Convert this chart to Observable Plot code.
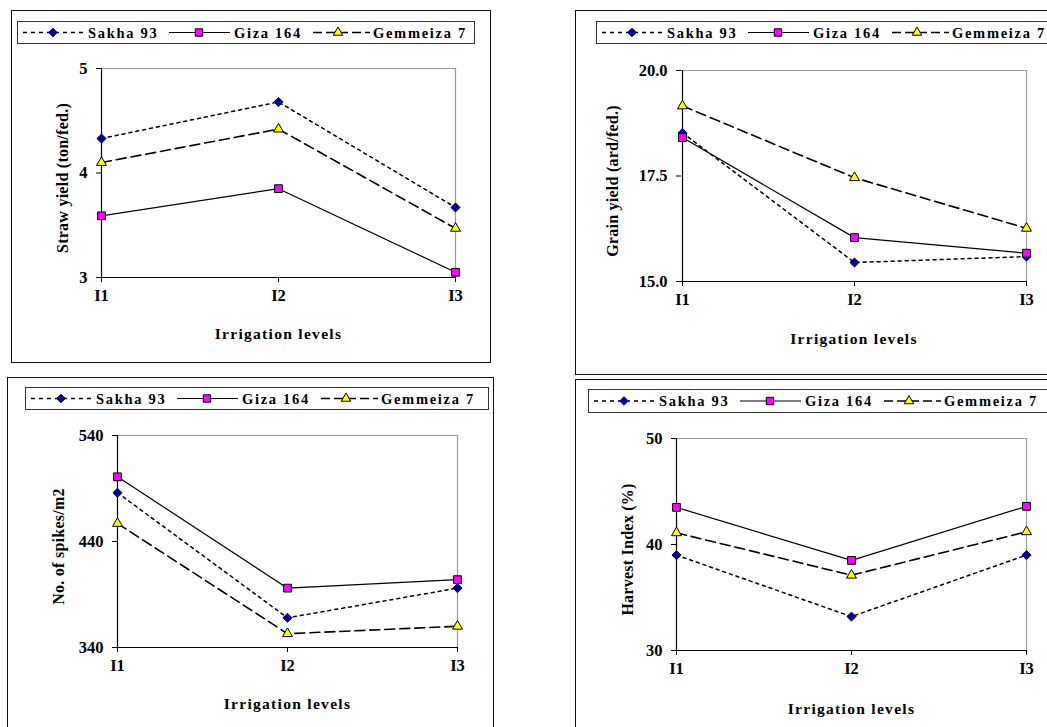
<!DOCTYPE html>
<html>
<head>
<meta charset="utf-8">
<script src="https://cdn.jsdelivr.net/npm/d3@7"></script>
<script src="https://cdn.jsdelivr.net/npm/@observablehq/plot@0.6"></script>
<style>
  html, body { margin: 0; padding: 0; background: #fff; }
  #page { position: relative; width: 1047px; height: 727px; overflow: hidden; background: #fff; }
  .box { position: absolute; border: 1.5px solid #111; box-sizing: border-box; }
</style>
</head>
<body>
<div id="page"></div>
<script>
// ---------- data ----------
const levels = ["I1", "I2", "I3"];
const seriesNames = ["Sakha 93", "Giza 164", "Gemmeiza 7"];

const strawSakha = [4.33, 4.68, 3.67];
const strawGiza = [3.59, 3.85, 3.05];
const strawGemmeiza = [4.10, 4.42, 3.47];
const strawTicks = [3, 4, 5];

const grainSakha = [18.52, 15.45, 15.59];
const grainGiza = [18.41, 16.04, 15.67];
const grainGemmeiza = [19.16, 17.46, 16.26];
const grainTicks = [15, 17.5, 20];

const spikesSakha = [486, 368, 396];
const spikesGiza = [501, 396, 404];
const spikesGemmeiza = [457, 353, 360];
const spikesTicks = [340, 440, 540];

const hiSakha = [39.0, 33.2, 39.0];
const hiGiza = [43.5, 38.5, 43.6];
const hiGemmeiza = [41.1, 37.1, 41.2];
const hiTicks = [30, 40, 50];

const xTitle = "Irrigation levels";

// ---------- styles ----------
const seriesStyle = [
  {dash: "3,4", width: 1.5, symbol: "diamond2", r: 4.1, fill: "#000080", stroke: "#000080", legendDash: "4,4"},
  {dash: null, width: 1.2, symbol: "square", r: 4.4, fill: "#FF00FF", stroke: "#000", legendDash: null},
  {dash: "10,5", width: 1.6, symbol: "triangle", r: 3.7, fill: "#FFFF00", stroke: "#000", legendDash: "9,4"}
];

const page = document.getElementById("page");
const FONT = "'Liberation Serif', 'Times New Roman', serif";

function addBox(x, y, w, h) {
  const d = document.createElement("div");
  d.className = "box";
  Object.assign(d.style, {left: x + "px", top: y + "px", width: w + "px", height: h + "px"});
  page.appendChild(d);
}

function addLegend(x, y, w, h) {
  const svg = d3.create("svg").attr("width", w).attr("height", h)
    .style("position", "absolute").style("left", x + "px").style("top", y + "px")
    .style("overflow", "visible");
  svg.append("rect").attr("x", 0.5).attr("y", 0.5).attr("width", w - 1).attr("height", h - 1)
    .attr("fill", "#fff").attr("stroke", "#333").attr("stroke-width", 1);
  const cy = h / 2;
  const items = [
    {x1: 6, x2: 66, m: 36, t: 71},
    {x1: 152, x2: 213, m: 182, t: 217},
    {x1: 296, x2: 353, m: 321, t: 356}
  ];
  items.forEach((it, i) => {
    const st = seriesStyle[i];
    const ln = svg.append("line").attr("x1", it.x1).attr("x2", it.x2).attr("y1", cy).attr("y2", cy)
      .attr("stroke", "#000").attr("stroke-width", st.width);
    if (st.legendDash) ln.attr("stroke-dasharray", st.legendDash);
    const symType = i === 0 ? d3.symbolDiamond2 : i === 1 ? d3.symbolSquare : d3.symbolTriangle;
    const size = Math.PI * st.r * st.r * 0.9;
    svg.append("path").attr("d", d3.symbol(symType, size)())
      .attr("transform", `translate(${it.m},${cy})`)
      .attr("fill", st.fill).attr("stroke", st.stroke).attr("stroke-width", 1);
    svg.append("text").attr("x", it.t).attr("y", cy + 5)
      .attr("font-family", FONT).attr("font-weight", "bold").attr("font-size", 14.5)
      .attr("letter-spacing", 1.7).attr("fill", "#000").text(seriesNames[i]);
  });
  page.appendChild(svg.node());
}

function addChart(cfg) {
  const mL = 100, mR = 20, mT = 20, mB = 80;
  const fw = cfg.frame[1] - cfg.frame[0], fh = cfg.frame[3] - cfg.frame[2];
  const data = seriesNames.flatMap((s, i) => levels.map((l, j) => ({series: s, level: l, value: cfg.values[i][j]})));
  const dom = [cfg.ticks[0], cfg.ticks[cfg.ticks.length - 1]];
  const lineMarks = seriesNames.map((s, i) => Plot.line(data.filter(d => d.series === s), {
    x: "level", y: "value", stroke: "#000", strokeWidth: seriesStyle[i].width,
    strokeDasharray: seriesStyle[i].dash || undefined
  }));
  const dotMarks = seriesNames.map((s, i) => Plot.dot(data.filter(d => d.series === s), {
    x: "level", y: "value", symbol: seriesStyle[i].symbol, r: seriesStyle[i].r,
    fill: seriesStyle[i].fill, stroke: seriesStyle[i].stroke, strokeWidth: 1
  }));
  const chart = Plot.plot({
    width: fw + mL + mR, height: fh + mT + mB,
    marginLeft: mL, marginRight: mR, marginTop: mT, marginBottom: mB,
    x: {type: "point", domain: levels, padding: 0},
    y: {domain: dom},
    style: {fontFamily: FONT, fontWeight: "bold", fontSize: "16.5px", background: "transparent", overflow: "visible", color: "#000"},
    marks: [
      Plot.ruleY([dom[1]], {stroke: "#999", strokeWidth: 1.2}),
      Plot.ruleX([levels[2]], {stroke: "#999", strokeWidth: 1.2}),
      Plot.ruleX([levels[0]], {stroke: "#000", strokeWidth: 1.2}),
      Plot.ruleY([dom[0]], {stroke: "#000", strokeWidth: 1.2}),
      Plot.axisY({ticks: cfg.ticks, tickSize: 5, tickPadding: 9, tickFormat: cfg.fmt, label: null, stroke: "#000", strokeOpacity: 1}),
      Plot.axisX({tickSize: 5, tickPadding: 7, label: null, stroke: "#000", strokeOpacity: 1}),
      ...lineMarks,
      ...dotMarks,
      Plot.text([cfg.ylabel], {text: d => d, frameAnchor: "left", textAnchor: "middle", rotate: -90, dx: cfg.ylabelDx, dy: 5, fontSize: 16, lineAnchor: "middle"}),
      Plot.text([xTitle], {text: d => d, frameAnchor: "bottom", textAnchor: "middle", dy: cfg.xlabelDy, fontSize: 15.5, lineAnchor: "middle"})
    ]
  });
  chart.style.position = "absolute";
  chart.style.left = (cfg.frame[0] - mL) + "px";
  chart.style.top = (cfg.frame[2] - mT) + "px";
  d3.select(chart).selectAll("text").filter(function () { return this.textContent === xTitle; })
    .attr("letter-spacing", 1.3);
  d3.select(chart).selectAll("text").filter(function () { return this.textContent === cfg.ylabel; })
    .attr("letter-spacing", 0.25);
  page.appendChild(chart);
}

// ---------- panels ----------
addBox(11, 10, 480, 353);
addBox(575, 10, 520, 365);
addBox(7, 377, 487, 400);
addBox(575, 379, 520, 400);

addLegend(17, 21, 458, 23);
addLegend(595.5, 21, 520, 23);
addLegend(25, 387, 464, 23);
addLegend(588, 389, 520, 24);

addChart({frame: [101, 455, 68, 277], values: [strawSakha, strawGiza, strawGemmeiza], ticks: strawTicks,
  fmt: d3.format("d"), ylabel: "Straw yield (ton/fed.)", ylabelDx: -39, xlabelDy: 57});
addChart({frame: [681, 1026, 70, 281], values: [grainSakha, grainGiza, grainGemmeiza], ticks: grainTicks,
  fmt: d3.format(".1f"), ylabel: "Grain yield (ard/fed.)", ylabelDx: -69, xlabelDy: 58});
addChart({frame: [117, 457, 435, 647], values: [spikesSakha, spikesGiza, spikesGemmeiza], ticks: spikesTicks,
  fmt: d3.format("d"), ylabel: "No. of spikes/m2", ylabelDx: -59, xlabelDy: 57});
addChart({frame: [676, 1026, 438, 650], values: [hiSakha, hiGiza, hiGemmeiza], ticks: hiTicks,
  fmt: d3.format("d"), ylabel: "Harvest Index (%)", ylabelDx: -49, xlabelDy: 59});
</script>
</body>
</html>
